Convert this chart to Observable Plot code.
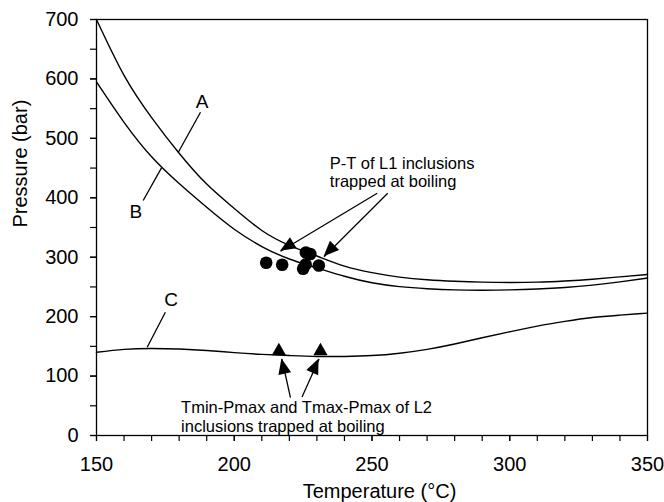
<!DOCTYPE html>
<html>
<head>
<meta charset="utf-8">
<script src="https://cdn.jsdelivr.net/npm/d3@7"></script>
<script src="https://cdn.jsdelivr.net/npm/@observablehq/plot@0.6"></script>
<style>
  body { margin: 0; background: #fff; }
</style>
</head>
<body>
<div id="chart"></div>
<script>
// ---- data ----
const temperature = [150,160,170,180,190,200,210,220,230,240,250,260,270,280,290,300,310,320,330,340,350];
const pressureA = [700,606,535,475,423,382,345,320,302,285,274,266.5,262,259.5,258,257.5,258,260,263,267,271];
const pressureB = [595,527,469,424,384,347,318,297,282,268,257,250.5,247,245,244.5,245,246.5,249,253,258.5,265];
const pressureC = [140,145,146.5,145.5,143,139.5,136.5,134.5,133,133,134.5,138.5,145,154,164.5,174.5,184,192,198.5,202.5,206];

// L1 inclusions (dots)
const dotT = [211.6, 217.4, 225.0, 225.9, 230.7, 226.0, 227.6];
const dotP = [290.6, 287.2, 280.5, 287.7, 286.0, 308.0, 305.5];

// L2 inclusions (triangles)
const triT = [216.2, 231.3];
const triP = [142, 142];

// curve letters and leader lines
const curveLabels = ["A", "B", "C"];
const labelT = [188.3, 164.3, 177.1];
const labelP = [560.8, 375.7, 228.3];
const leaderT1 = [187.75, 166.95, 175.0];
const leaderP1 = [544, 395.4, 207.5];
const leaderT2 = [179.65, 173.6, 168.4];
const leaderP2 = [476.2, 450.4, 148.6];

// annotation arrows (start -> tip)
const arrowT1 = [251.9, 255.7, 220.4, 224.6];
const arrowP1 = [407.7, 407.7, 63.9, 64.8];
const arrowT2 = [216.8, 232.6, 217.3, 230.8];
const arrowP2 = [310.1, 300.7, 128.7, 128.7];

// annotation texts (two lines each; position = left edge, cap top of first line)
const noteFirstLines = ["P-T of L1 inclusions", "Tmin-Pmax and Tmax-Pmax of L2"];
const noteSecondLines = ["trapped at boiling", "inclusions trapped at boiling"];
const noteT = [234.7, 180.7];
const noteP = [470.6, 58.9];
const noteLineHeights = [1.1, 1.1];

const xTicksMajor = [150, 200, 250, 300, 350];
const xTicksMinor = d3.range(150, 351, 10);
const yTicksMajor = [0, 100, 200, 300, 400, 500, 600, 700];
const yTicksMinor = d3.range(0, 701, 50);

// ---- tables ----
const rows = temperature.map((t, i) => ({t, a: pressureA[i], b: pressureB[i], c: pressureC[i]}));
const dots = dotT.map((t, i) => ({t, p: dotP[i]}));
const tris = triT.map((t, i) => ({t, p: triP[i]}));
const labels = curveLabels.map((s, i) => ({s, t: labelT[i], p: labelP[i]}));
const leaders = leaderT1.map((t, i) => ({t1: t, p1: leaderP1[i], t2: leaderT2[i], p2: leaderP2[i]}));
const arrows = arrowT1.map((t, i) => ({t1: t, p1: arrowP1[i], t2: arrowT2[i], p2: arrowP2[i]}));

function arrowHeads(index, scales) {
  const sx = scales.x, sy = scales.y;
  const g = d3.create("svg:g").attr("fill", "black").attr("stroke", "none");
  arrows.forEach(d => {
    const x1 = sx(d.t1), y1 = sy(d.p1), x2 = sx(d.t2), y2 = sy(d.p2);
    const ang = Math.atan2(y2 - y1, x2 - x1);
    const L = 15.5, W = 6.5;
    const bx = x2 - L * Math.cos(ang), by = y2 - L * Math.sin(ang);
    const px = -Math.sin(ang) * W, py = Math.cos(ang) * W;
    g.append("path").attr("d", `M${x2},${y2}L${bx + px},${by + py}L${bx - px},${by - py}Z`);
  });
  return g.node();
}

const font = "'Liberation Sans', Arial, Helvetica, sans-serif";

const noteMarks = noteFirstLines.map((s, i) =>
  Plot.text([{s: s + "\n" + noteSecondLines[i], t: noteT[i], p: noteP[i]}], {
    x: "t", y: "p", text: "s", fontSize: 16.5, textAnchor: "start", lineAnchor: "top",
    lineHeight: noteLineHeights[i], fill: "black"
  })
);

const chart = Plot.plot({
  width: 664,
  height: 502,
  marginLeft: 96,
  marginRight: 17,
  marginTop: 19,
  marginBottom: 67,
  x: {domain: [150, 350], label: null},
  y: {domain: [0, 700], label: null},
  style: {fontFamily: font, background: "white", color: "black"},
  marks: [
    Plot.axisX({ticks: xTicksMinor, tickSize: 6, tickFormat: () => "", label: null, strokeWidth: 1.2}),
    Plot.axisX({ticks: xTicksMajor, tickSize: 6, tickPadding: 15, fontSize: 20, label: null, strokeWidth: 1.2, tickFormat: d => String(d)}),
    Plot.axisY({ticks: yTicksMinor, tickSize: 6, tickFormat: () => "", label: null, strokeWidth: 1.2}),
    Plot.axisY({ticks: yTicksMajor, tickSize: 6, tickPadding: 12, fontSize: 20, label: null, strokeWidth: 1.2, tickFormat: d => String(d)}),
    Plot.frame({stroke: "black", strokeWidth: 1.3}),
    Plot.line(rows, {x: "t", y: "a", curve: "natural", stroke: "black", strokeWidth: 1.4}),
    Plot.line(rows, {x: "t", y: "b", curve: "natural", stroke: "black", strokeWidth: 1.4}),
    Plot.line(rows, {x: "t", y: "c", curve: "natural", stroke: "black", strokeWidth: 1.4}),
    Plot.link(leaders, {x1: "t1", y1: "p1", x2: "t2", y2: "p2", stroke: "black", strokeWidth: 1.3}),
    Plot.link(arrows, {x1: "t1", y1: "p1", x2: "t2", y2: "p2", stroke: "black", strokeWidth: 1.3}),
    arrowHeads,
    Plot.dot(dots, {x: "t", y: "p", r: 6.3, fill: "black", stroke: "none"}),
    Plot.dot(tris, {x: "t", y: "p", r: 5.3, symbol: "triangle", fill: "black", stroke: "none"}),
    Plot.text(labels, {x: "t", y: "p", text: "s", fontSize: 19, lineAnchor: "middle", fill: "black"}),
    ...noteMarks,
    Plot.text(["Temperature (°C)"], {frameAnchor: "bottom", dx: 7.5, dy: 48.3, fontSize: 20, lineAnchor: "top", fill: "black"}),
    Plot.text(["Pressure (bar)"], {frameAnchor: "left", rotate: -90, dx: -75.7, fontSize: 20, lineAnchor: "middle", fill: "black"})
  ]
});

document.getElementById("chart").appendChild(chart);
</script>
</body>
</html>
